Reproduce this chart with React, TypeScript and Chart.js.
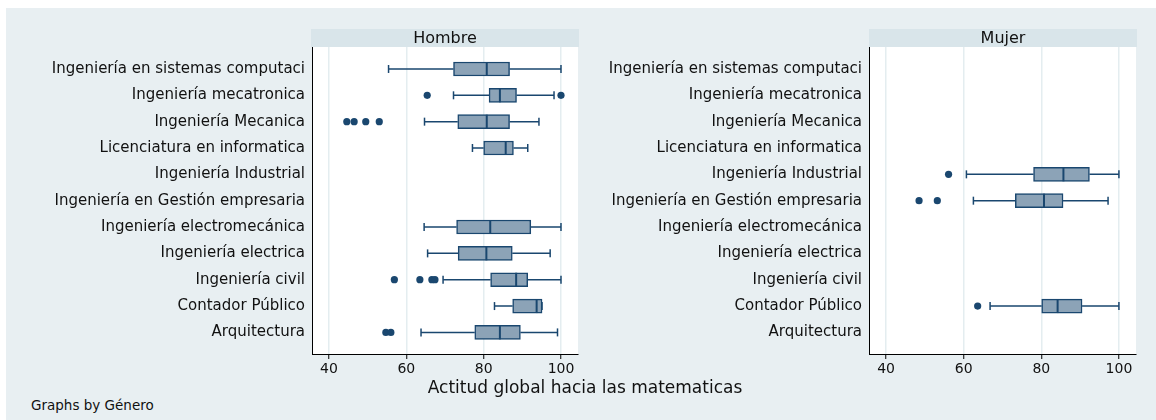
import React, { useEffect, useRef } from 'react';
import { Chart, registerables } from 'chart.js';

Chart.register(...registerables);

const categories = [
  'Ingeniería en sistemas computaci',
  'Ingeniería mecatronica',
  'Ingeniería Mecanica',
  'Licenciatura en informatica',
  'Ingeniería Industrial',
  'Ingeniería en Gestión empresaria',
  'Ingeniería electromecánica',
  'Ingeniería electrica',
  'Ingeniería civil',
  'Contador Público',
  'Arquitectura',
];
const xTicks = [40, 60, 80, 100];
const panelTitles = ['Hombre', 'Mujer'];
const axisTitle = 'Actitud global hacia las matematicas';
const noteText = 'Graphs by Género';

// Hombre
const hombreLow = [55.4, 72.2, 64.7, 77.1, null, null, 64.6, 65.5, 69.5, 82.8, 63.8];
const hombreQ1 = [72.2, 81.4, 73.3, 80.0, null, null, 73.0, 73.4, 81.8, 87.5, 77.7];
const hombreMed = [80.8, 84.2, 80.8, 85.7, null, null, 81.7, 80.7, 88.4, 93.7, 84.2];
const hombreQ3 = [86.7, 88.5, 86.7, 87.7, null, null, 92.2, 87.4, 91.4, 95.1, 89.5];
const hombreHigh = [100, 98.2, 94.3, 91.4, null, null, 100, 97.2, 100, 95.1, 99.1];
const hombreOut = [[], [65.4, 100], [44.6, 46.5, 49.5, 53.0], [], [], [], [], [], [56.9, 63.5, 66.6, 67.4], [], [54.7, 56.0]];

// Mujer
const mujerLow = [null, null, null, null, 60.7, 62.5, null, null, null, 66.8, null];
const mujerQ1 = [null, null, null, null, 78.0, 73.3, null, null, null, 80.1, null];
const mujerMed = [null, null, null, null, 85.7, 80.7, null, null, null, 84.2, null];
const mujerQ3 = [null, null, null, null, 92.4, 85.6, null, null, null, 90.5, null];
const mujerHigh = [null, null, null, null, 100, 97.2, null, null, null, 100, null];
const mujerOut = [[], [], [], [], [56.1], [48.5, 53.2], [], [], [], [63.6], []];

const FONT = "'DejaVu Sans', sans-serif";
const NAVY = '#1a476f';
const BOX_FILL = '#8ca3b7';
const BG = '#e8eff2';
const STRIP = '#d9e5ea';
const GRID = '#e4edf0';

type Num = number | null;

function buildDatasets(low: Num[], q1: Num[], med: Num[], q3: Num[], high: Num[], outs: number[][]) {
  const boxes: any[] = [];
  const whiskers: any[] = [];
  const caps: any[] = [];
  const medians: any[] = [];
  const outliers: any[] = [];
  categories.forEach((_, i) => {
    const y = i + 1;
    if (q1[i] == null) return;
    boxes.push({ x: [q1[i], q3[i]], y });
    whiskers.push({ x: low[i], y }, { x: q1[i], y }, { x: null, y: null });
    whiskers.push({ x: q3[i], y }, { x: high[i], y }, { x: null, y: null });
    caps.push({ x: low[i], y }, { x: high[i], y });
    medians.push({ x: med[i], y });
    outs[i].forEach((v) => outliers.push({ x: v, y }));
  });
  return [
    {
      type: 'line',
      data: whiskers,
      borderColor: NAVY,
      borderWidth: 1.5,
      pointRadius: 0,
      spanGaps: false,
      order: 4,
    },
    {
      type: 'bar',
      data: boxes,
      backgroundColor: BOX_FILL,
      borderColor: NAVY,
      borderWidth: 1.5,
      borderSkipped: false,
      barThickness: 14,
      order: 3,
    },
    {
      type: 'scatter',
      data: caps,
      pointStyle: 'line',
      pointRotation: 90,
      pointRadius: 4,
      borderColor: NAVY,
      pointBorderColor: NAVY,
      pointBorderWidth: 1.5,
      borderWidth: 1.5,
      order: 2,
    },
    {
      type: 'scatter',
      data: medians,
      pointStyle: 'line',
      pointRotation: 90,
      pointRadius: 7,
      borderColor: NAVY,
      pointBorderColor: NAVY,
      pointBorderWidth: 2,
      borderWidth: 2,
      order: 1,
    },
    {
      type: 'scatter',
      data: outliers,
      pointStyle: 'circle',
      pointRadius: 3.6,
      backgroundColor: NAVY,
      pointBackgroundColor: NAVY,
      borderWidth: 0,
      pointBorderWidth: 0,
      order: 0,
    },
  ];
}

const plotBg = {
  id: 'plotBg',
  beforeDraw(chart: any) {
    const { ctx, chartArea } = chart;
    ctx.save();
    ctx.fillStyle = '#ffffff';
    ctx.fillRect(chartArea.left, chartArea.top, chartArea.right - chartArea.left, chartArea.bottom - chartArea.top);
    ctx.restore();
  },
};

function Panel(props: {
  left: number;
  width: number;
  height: number;
  yWidth: number;
  padRight: number;
  low: Num[];
  q1: Num[];
  med: Num[];
  q3: Num[];
  high: Num[];
  outs: number[][];
}) {
  const ref = useRef<HTMLCanvasElement>(null);
  useEffect(() => {
    const chart = new Chart(ref.current as HTMLCanvasElement, {
      type: 'bar',
      data: {
        datasets: buildDatasets(props.low, props.q1, props.med, props.q3, props.high, props.outs) as any,
      },
      plugins: [plotBg],
      options: {
        indexAxis: 'y',
        responsive: false,
        animation: false,
        devicePixelRatio: 1,
        events: [],
        layout: { padding: { top: 39, right: props.padRight, bottom: 0, left: 0 } },
        plugins: { legend: { display: false }, tooltip: { enabled: false } },
        scales: {
          x: {
            type: 'linear',
            position: 'bottom',
            offset: false,
            min: 35.6,
            max: 104.4,
            afterBuildTicks: (s: any) => {
              s.ticks = xTicks.map((v) => ({ value: v }));
            },
            afterFit: (s: any) => {
              s.height = 34;
            },
            grid: { color: GRID, lineWidth: 1.5, tickColor: '#000', tickLength: 5, tickWidth: 1, offset: false },
            border: { display: true, color: '#000', width: 1 },
            ticks: {
              font: { family: FONT, size: 14 },
              color: '#111',
              padding: 2,
              maxRotation: 0,
              autoSkip: false,
              callback: (v: any) => String(v),
            },
          },
          y: {
            type: 'linear',
            position: 'left',
            reverse: true,
            offset: false,
            min: 0.166,
            max: 11.82,
            afterBuildTicks: (s: any) => {
              s.ticks = categories.map((_, i) => ({ value: i + 1 }));
            },
            afterFit: (s: any) => {
              s.width = props.yWidth;
            },
            grid: { display: false, drawTicks: false, offset: false },
            border: { display: true, color: '#000', width: 1 },
            ticks: {
              font: { family: FONT, size: 15 },
              color: '#111',
              padding: 7,
              autoSkip: false,
              callback: (v: any) => categories[Math.round(Number(v)) - 1] ?? '',
            },
          },
        },
      } as any,
    });
    return () => chart.destroy();
  }, []);
  return (
    <canvas
      ref={ref}
      width={props.width}
      height={props.height}
      style={{ position: 'absolute', left: props.left, top: 0, width: props.width, height: props.height }}
    />
  );
}

export default function App() {
  const stripStyle = (left: number): React.CSSProperties => ({
    position: 'absolute',
    left,
    top: 21,
    width: 268,
    height: 18,
    background: STRIP,
    fontFamily: FONT,
    fontSize: 16,
    lineHeight: '18px',
    textAlign: 'center',
    color: '#111',
  });
  return (
    <div
      style={{
        position: 'absolute',
        left: 6,
        top: 8,
        width: 1150,
        height: 412,
        background: BG,
        overflow: 'hidden',
      }}
    >
      <Panel
        left={0}
        width={600}
        height={380}
        yWidth={306}
        padRight={28}
        low={hombreLow}
        q1={hombreQ1}
        med={hombreMed}
        q3={hombreQ3}
        high={hombreHigh}
        outs={hombreOut}
      />
      <Panel
        left={560}
        width={590}
        height={380}
        yWidth={303}
        padRight={20}
        low={mujerLow}
        q1={mujerQ1}
        med={mujerMed}
        q3={mujerQ3}
        high={mujerHigh}
        outs={mujerOut}
      />
      <div style={stripStyle(305)}>{panelTitles[0]}</div>
      <div style={stripStyle(863)}>{panelTitles[1]}</div>
      <div
        style={{
          position: 'absolute',
          left: 279,
          top: 369,
          width: 600,
          textAlign: 'center',
          fontFamily: FONT,
          fontSize: 17,
          lineHeight: '20px',
          color: '#111',
        }}
      >
        {axisTitle}
      </div>
      <div
        style={{
          position: 'absolute',
          left: 25,
          top: 389,
          fontFamily: FONT,
          fontSize: 13.5,
          lineHeight: '16px',
          color: '#111',
        }}
      >
        {noteText}
      </div>
    </div>
  );
}
